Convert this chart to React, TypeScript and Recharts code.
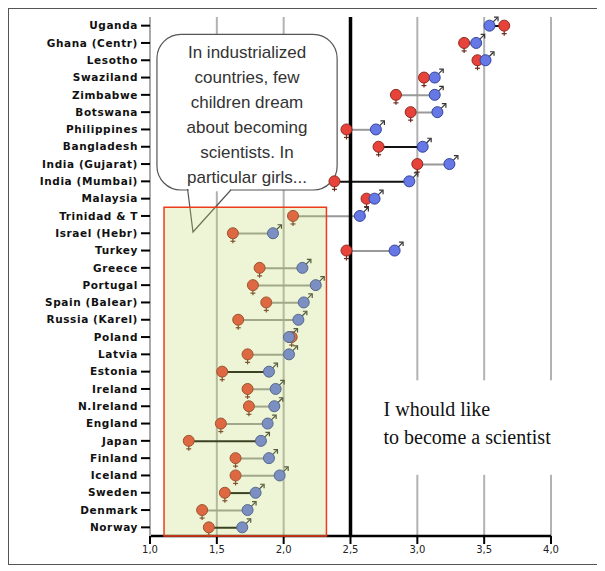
import {
  ComposedChart,
  Bar,
  Scatter,
  XAxis,
  YAxis,
  CartesianGrid,
  ReferenceLine,
  ReferenceArea,
  Cell,
} from "recharts";

// "I would like to become a scientist" – mean agreement, girls vs boys (1 = disagree, 4 = agree)
const countries = [
  "Uganda",
  "Ghana (Centr)",
  "Lesotho",
  "Swaziland",
  "Zimbabwe",
  "Botswana",
  "Philippines",
  "Bangladesh",
  "India (Gujarat)",
  "India (Mumbai)",
  "Malaysia",
  "Trinidad & T",
  "Israel (Hebr)",
  "Turkey",
  "Greece",
  "Portugal",
  "Spain (Balear)",
  "Russia (Karel)",
  "Poland",
  "Latvia",
  "Estonia",
  "Ireland",
  "N.Ireland",
  "England",
  "Japan",
  "Finland",
  "Iceland",
  "Sweden",
  "Denmark",
  "Norway",
];

const girls = [
  3.65, 3.35, 3.45, 3.05, 2.84, 2.95, 2.47, 2.71, 3.0, 2.38, 2.62, 2.07, 1.62, 2.47, 1.82,
  1.77, 1.87, 1.66, 2.06, 1.73, 1.54, 1.73, 1.74, 1.53, 1.29, 1.64, 1.64, 1.56, 1.39, 1.44,
];

const boys = [
  3.54, 3.44, 3.51, 3.13, 3.13, 3.15, 2.69, 3.04, 3.24, 2.94, 2.68, 2.57, 1.92, 2.83, 2.14,
  2.24, 2.15, 2.11, 2.04, 2.04, 1.89, 1.94, 1.93, 1.88, 1.83, 1.89, 1.97, 1.79, 1.73, 1.69,
];

// countries whose girl–boy gap is drawn with a dark connector
const darkLinks = ["Uganda", "Bangladesh", "India (Mumbai)", "Estonia", "Japan", "Sweden", "Norway"];

const xTicks = [1, 1.5, 2, 2.5, 3, 3.5, 4];

const calloutLines = [
  "In industrialized",
  "countries, few",
  "children dream",
  "about becoming",
  "scientists. In",
  "particular girls...",
];

const titleLines = ["I whould like", "to become a scientist"];

const data = countries.map((country, i) => ({
  country,
  girls: girls[i],
  boys: boys[i],
  gap: [Math.min(girls[i], boys[i]), Math.max(girls[i], boys[i])],
}));

function Girl(props: any) {
  const { cx, cy } = props;
  if (cx == null || cy == null) return null;
  return (
    <g>
      <line x1={cx} y1={cy + 4} x2={cx} y2={cy + 10} stroke="#6b2a1e" strokeWidth={1.2} />
      <line x1={cx - 2.5} y1={cy + 8} x2={cx + 2.5} y2={cy + 8} stroke="#6b2a1e" strokeWidth={1.2} />
      <circle cx={cx} cy={cy} r={5.5} fill="#e8433a" stroke="#8e2a20" strokeWidth={1} />
    </g>
  );
}

function Boy(props: any) {
  const { cx, cy } = props;
  if (cx == null || cy == null) return null;
  return (
    <g>
      <line x1={cx + 3} y1={cy - 3} x2={cx + 8} y2={cy - 8} stroke="#333" strokeWidth={1.2} />
      <polyline
        points={`${cx + 4.5},${cy - 8.5} ${cx + 8.5},${cy - 8.5} ${cx + 8.5},${cy - 4.5}`}
        fill="none"
        stroke="#333"
        strokeWidth={1.2}
      />
      <circle cx={cx} cy={cy} r={5.5} fill="#6677e6" stroke="#34449a" strokeWidth={1} />
    </g>
  );
}

function Callout(props: any) {
  const { x, y, width, height } = props;
  const r = 24;
  const bottom = y + height;
  const baseL = x + width * 0.17;
  const baseR = x + width * 0.41;
  const tipX = x + width * 0.2;
  const tipY = bottom + 42;
  const cx = x + width / 2;
  return (
    <g>
      <rect x={x} y={y} width={width} height={height} rx={r} ry={r} fill="#fff" stroke="#555" strokeWidth={1.2} />
      <line x1={baseL + 1} y1={bottom} x2={baseR - 1} y2={bottom} stroke="#fff" strokeWidth={2.5} />
      <polyline
        points={`${baseL},${bottom - 1} ${tipX},${tipY} ${baseR},${bottom}`}
        fill="none"
        stroke="#555"
        strokeWidth={1.2}
      />
      {calloutLines.map((t, i) => (
        <text
          key={i}
          x={cx}
          y={y + 24 + i * 25}
          textAnchor="middle"
          fontFamily="Liberation Sans, Arial, sans-serif"
          fontSize={17}
          fill="#333"
        >
          {t}
        </text>
      ))}
    </g>
  );
}

function TitleBox(props: any) {
  const { x, y, width, height } = props;
  return (
    <g>
      <rect x={x} y={y} width={width} height={height + 8} fill="#fff" />
      {titleLines.map((t, i) => (
        <text
          key={i}
          x={x + 17}
          y={y + 36 + i * 28}
          fontFamily="Liberation Serif, Times New Roman, serif"
          fontSize={20}
          fill="#111"
        >
          {t}
        </text>
      ))}
    </g>
  );
}

export default function App() {
  return (
    <div style={{ width: 588, height: 555, border: "1px solid #555", background: "#fff" }}>
      <ComposedChart
        width={588}
        height={555}
        data={data}
        layout="vertical"
        margin={{ top: 8, right: 46, bottom: 0, left: 0 }}
      >
        <CartesianGrid horizontal={false} stroke="#b2b2b2" strokeWidth={2} />
        <XAxis
          type="number"
          domain={[1, 4]}
          ticks={xTicks}
          height={28}
          axisLine={{ stroke: "#000", strokeWidth: 2.5 }}
          tickLine={{ stroke: "#000", strokeWidth: 2 }}
          tickSize={8}
          tickMargin={2}
          tick={{ fontSize: 10, fill: "#222", fontFamily: "DejaVu Sans" }}
          tickFormatter={(v: number) => v.toFixed(1).replace(".", ",")}
        />
        <YAxis
          type="category"
          dataKey="country"
          width={141}
          axisLine={{ stroke: "#aaa", strokeWidth: 2 }}
          tickLine={{ stroke: "#000", strokeWidth: 2 }}
          tickSize={9}
          tickMargin={3}
          interval={0}
          tick={{ fontSize: 10.5, fontWeight: 700, fill: "#111", fontFamily: "DejaVu Sans", letterSpacing: 0.6 }}
        />
        <ReferenceArea
          x1={1.052}
          x2={2.4}
          y1="Ghana (Centr)"
          y2="India (Mumbai)"
          shape={<Callout />}
          ifOverflow="visible"
        />
        <ReferenceArea x1={2.62} x2={4.05} y1="Ireland" y2="Finland" shape={<TitleBox />} ifOverflow="visible" />
        <ReferenceLine x={2.5} stroke="#000" strokeWidth={3.5} />
        <Bar dataKey="gap" barSize={2} isAnimationActive={false}>
          {data.map((d) => (
            <Cell key={d.country} fill={darkLinks.includes(d.country) ? "#111" : "#999"} />
          ))}
        </Bar>
        <Scatter dataKey="girls" shape={<Girl />} isAnimationActive={false} />
        <Scatter dataKey="boys" shape={<Boy />} isAnimationActive={false} />
        <ReferenceArea
          x1={1.105}
          x2={2.32}
          y1="Trinidad & T"
          y2="Norway"
          fill="#bcd95a"
          fillOpacity={0.25}
          stroke="#ee3b1c"
          strokeWidth={1.5}
          strokeOpacity={1}
          {...({ zIndex: 2000 } as any)}
        />
      </ComposedChart>
    </div>
  );
}
